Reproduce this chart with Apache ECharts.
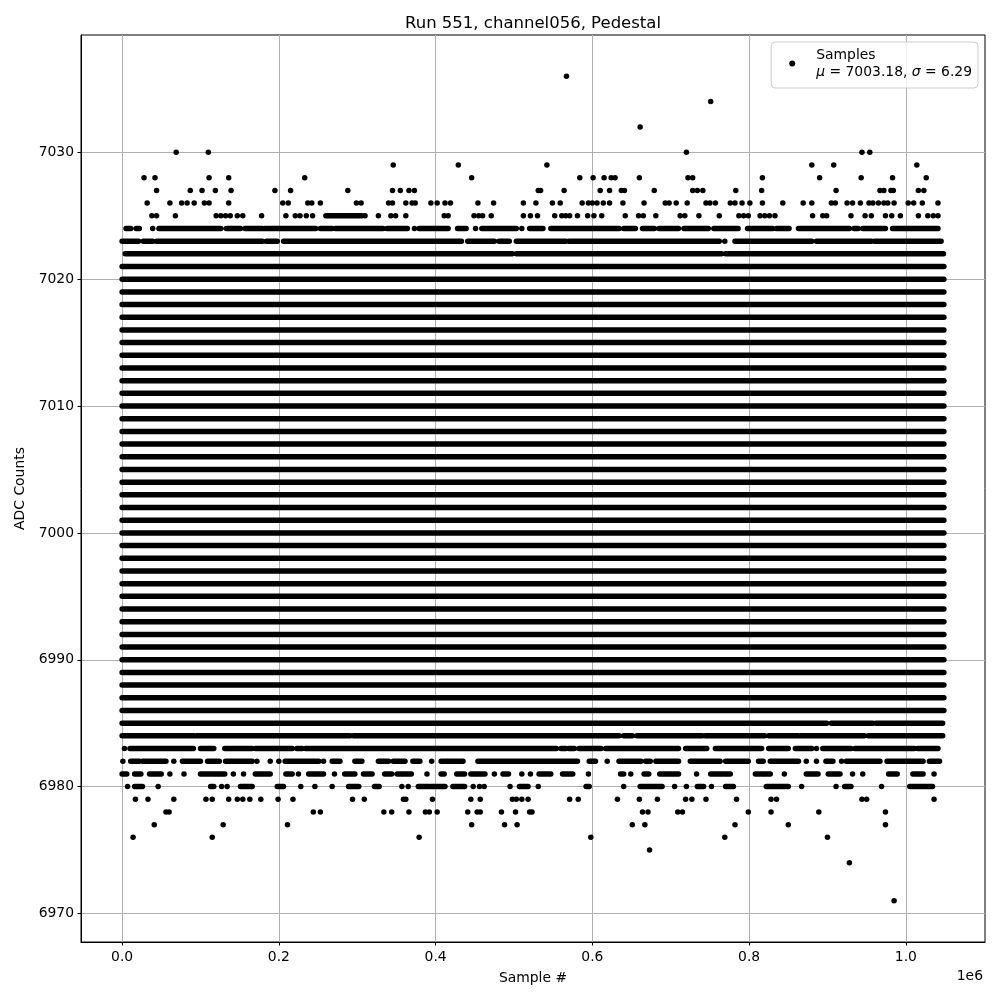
<!DOCTYPE html>
<html><head><meta charset="utf-8">
<script src="https://cdn.jsdelivr.net/npm/echarts@6/dist/echarts.min.js"></script>
<style>html,body{margin:0;padding:0;background:#fff}#c{width:1000px;height:1000px}</style>
</head><body><div id="c"></div>
<script>
// x values are in thousands of samples (axis shown as value/1e6 with "1e6" offset)
const xTicks = [0, 200, 400, 600, 800, 1000];
const yTicks = [6970, 6980, 6990, 7000, 7010, 7020, 7030];
const titleText = 'Run 551, channel056, Pedestal';
const lastSample = 1048.575;
const meanValue = '7003.18';
const sigmaValue = '6.29';

// levels where samples form continuous rows across the whole run
const fullLevels = [6986, 6987, 6988, 6989, 6990, 6991, 6992, 6993, 6994, 6995, 6996, 6997,
  6998, 6999, 7000, 7001, 7002, 7003, 7004, 7005, 7006, 7007, 7008, 7009, 7010, 7011, 7012,
  7013, 7014, 7015, 7016, 7017, 7018, 7019, 7020, 7021];

// partially filled levels: runs of consecutive samples [from, to]
const seg7025 = [[260, 306]];
const seg7024 = [[5, 11], [18, 22], [47, 126], [133, 151], [157, 179], [182, 247], [253, 268], [272, 333], [338, 364], [379, 416], [428, 439], [459, 503], [520, 537], [547, 634], [640, 655], [664, 679], [685, 710], [717, 748], [755, 786], [798, 830], [835, 851], [863, 928], [934, 939], [945, 974], [983, 1041]];
const seg7023 = [[0, 21], [27, 39], [44, 179], [184, 198], [206, 433], [441, 475], [481, 494], [503, 566], [570, 762], [782, 880], [886, 956], [960, 1045]];
const seg7022 = [[4, 498], [503, 765], [770, 1048]];
const seg6985 = [[0, 899], [905, 958], [962, 1047]];
const seg6984 = [[0, 92], [95, 291], [295, 634], [640, 651], [657, 740], [744, 820], [825, 863], [866, 947], [952, 1047]];
const seg6983 = [[10, 91], [100, 117], [131, 166], [170, 217], [223, 230], [234, 554], [560, 566], [570, 577], [583, 611], [617, 710], [719, 746], [757, 816], [825, 850], [859, 880], [894, 930], [935, 1011], [1015, 1041]];
const seg6982 = [[11, 22], [26, 56], [77, 100], [109, 124], [132, 166], [208, 251], [268, 278], [297, 306], [327, 340], [346, 361], [371, 380], [407, 435], [454, 581], [596, 604], [634, 662], [668, 674], [681, 710], [725, 763], [770, 799], [812, 818], [827, 863], [898, 907], [924, 967], [976, 1022], [1030, 1043]];
const seg6981 = [[0, 6], [16, 24], [35, 50], [100, 131], [170, 189], [209, 217], [238, 257], [284, 297], [308, 319], [335, 344], [351, 369], [407, 411], [427, 437], [445, 463], [486, 493], [532, 547], [562, 575], [636, 640], [666, 672], [686, 710], [751, 776], [808, 827], [873, 888], [901, 916], [978, 989], [1009, 1022]];
const seg6980 = [[16, 26], [113, 117], [151, 166], [198, 206], [289, 302], [322, 328], [378, 412], [422, 437], [507, 518], [592, 596], [661, 689], [734, 742], [770, 780], [822, 850], [922, 930], [1005, 1034]];

// isolated samples per level
const pts7036 = [567];
const pts7034 = [751];
const pts7032 = [661];
const pts7030 = [69, 110, 720, 944, 954];
const pts7029 = [346, 429, 542, 880, 908, 1014];
const pts7028 = [28, 42, 111, 136, 233, 446, 584, 601, 615, 624, 629, 660, 722, 728, 817, 890, 943, 983, 1026];
const pts7027 = [44, 87, 102, 119, 139, 195, 215, 288, 345, 355, 366, 373, 531, 534, 564, 610, 622, 637, 641, 679, 728, 734, 741, 783, 816, 911, 967, 972, 981, 984, 1016, 1023];
const pts7026 = [32, 61, 76, 83, 92, 105, 111, 136, 205, 212, 237, 242, 253, 299, 305, 340, 345, 362, 370, 374, 394, 402, 412, 419, 454, 474, 512, 528, 549, 559, 587, 595, 600, 606, 614, 622, 639, 666, 693, 698, 707, 721, 745, 750, 757, 776, 782, 791, 801, 817, 843, 869, 880, 905, 910, 925, 932, 942, 953, 958, 965, 972, 977, 985, 1003, 1010, 1021, 1041];
const pts7025 = [38, 44, 68, 120, 126, 132, 138, 147, 154, 178, 209, 221, 227, 235, 243, 310, 327, 343, 349, 362, 411, 416, 449, 455, 460, 471, 512, 521, 530, 552, 561, 566, 571, 581, 594, 602, 612, 642, 659, 665, 681, 712, 718, 736, 762, 787, 793, 799, 814, 820, 826, 833, 881, 894, 899, 930, 948, 956, 974, 982, 993, 1016, 1028, 1035, 1041];
const pts7024 = [39, 373, 451, 510];
const pts7023 = [769];
const pts6983 = [3, 886];
const pts6982 = [1, 66, 172, 189, 200, 257, 395, 619, 873, 886, 918];
const pts6981 = [61, 79, 142, 155, 225, 271, 389, 475, 510, 521, 595, 649, 733, 845, 932, 945, 1036];
const pts6980 = [7, 46, 127, 134, 228, 246, 268, 357, 365, 448, 456, 462, 495, 531, 640, 705, 720, 752, 867, 911, 969];
const pts6979 = [17, 33, 66, 107, 115, 136, 147, 154, 163, 177, 199, 218, 294, 309, 359, 362, 396, 445, 457, 498, 503, 510, 518, 571, 582, 632, 660, 683, 719, 727, 745, 784, 828, 835, 944, 950, 1036];
const pts6978 = [56, 60, 244, 253, 334, 344, 366, 387, 392, 402, 441, 453, 457, 484, 502, 520, 523, 664, 671, 709, 715, 799, 828, 889, 974];
const pts6977 = [41, 129, 211, 446, 488, 504, 651, 667, 782, 850, 974];
const pts6976 = [14, 115, 379, 598, 769, 900];
const pts6975 = [673];
const pts6974 = [928];
const pts6971 = [985];

const segRows = [[7025, seg7025], [7024, seg7024], [7023, seg7023], [7022, seg7022],
  [6985, seg6985], [6984, seg6984], [6983, seg6983], [6982, seg6982], [6981, seg6981], [6980, seg6980]];
fullLevels.forEach(v => segRows.push([v, [[0, lastSample]]]));
const ptRows = [[7036, pts7036], [7034, pts7034], [7032, pts7032], [7030, pts7030], [7029, pts7029],
  [7028, pts7028], [7027, pts7027], [7026, pts7026], [7025, pts7025], [7024, pts7024], [7023, pts7023],
  [6983, pts6983], [6982, pts6982], [6981, pts6981], [6980, pts6980], [6979, pts6979], [6978, pts6978],
  [6977, pts6977], [6976, pts6976], [6975, pts6975], [6974, pts6974], [6971, pts6971]];

const lineData = [];
segRows.forEach(([v, segs]) => segs.forEach(([a, b]) => { lineData.push([a, v], [b, v], [b, '-']); }));
const pointData = [];
ptRows.forEach(([v, xs]) => xs.forEach(x => pointData.push([x, v])));

const FONT = 'DejaVu Sans';
const chart = echarts.init(document.getElementById('c'), null, {renderer: 'canvas'});
chart.setOption({
  animation: false,
  backgroundColor: '#ffffff',
  title: [
    {text: titleText, left: 528, top: 10, textAlign: 'center',
     textStyle: {fontFamily: FONT, fontSize: 16.5, fontWeight: 'normal', color: '#000'}},
    {text: '1e6', right: 12, top: 964,
     textStyle: {fontFamily: FONT, fontSize: 13.9, fontWeight: 'normal', color: '#000'}}
  ],
  grid: {left: 81, right: 15, top: 35, bottom: 58, show: true, borderColor: '#000', borderWidth: 1, backgroundColor: 'transparent'},
  legend: {
    data: ['Samples'], right: 22, top: 42, orient: 'vertical', icon: 'circle',
    itemWidth: 38, itemHeight: 6, padding: [6, 6, 9, 18],
    backgroundColor: 'rgba(255,255,255,0.8)', borderColor: '#cccccc', borderWidth: 1, borderRadius: 4,
    formatter: () => '{a|Samples}\n{i|μ}{a| = ' + meanValue + ', }{i|σ}{a| = ' + sigmaValue + '}',
    itemStyle: {opacity: 1},
    textStyle: {fontFamily: FONT, fontSize: 13.9, color: '#000',
      rich: {a: {fontFamily: FONT, fontSize: 13.9, color: '#000', lineHeight: 17},
             i: {fontFamily: FONT, fontSize: 13.9, color: '#000', fontStyle: 'italic', lineHeight: 17}}}
  },
  xAxis: {
    type: 'value', min: -52.429, max: 1101.004,
    name: 'Sample #', nameLocation: 'middle', nameGap: 29,
    nameTextStyle: {fontFamily: FONT, fontSize: 13.9, color: '#000'},
    axisLine: {show: true, onZero: false, lineStyle: {color: '#000', width: 1}},
    axisTick: {show: true, length: 3.5, customValues: xTicks, lineStyle: {color: '#000'}},
    axisLabel: {customValues: xTicks, margin: 8.5, fontFamily: FONT, fontSize: 13.9, color: '#000',
      formatter: v => (v / 1000).toFixed(1)},
    splitLine: {show: true, lineStyle: {color: '#b0b0b0', width: 1}}
  },
  yAxis: {
    type: 'value', min: 6967.75, max: 7039.25,
    name: 'ADC Counts', nameLocation: 'middle', nameGap: 50,
    nameTextStyle: {fontFamily: FONT, fontSize: 13.9, color: '#000'},
    axisLine: {show: true, onZero: false, lineStyle: {color: '#000', width: 1}},
    axisTick: {show: true, length: 3.5, customValues: yTicks, lineStyle: {color: '#000'}},
    axisLabel: {customValues: yTicks, margin: 7, fontFamily: FONT, fontSize: 13.9, color: '#000',
      formatter: v => String(v)},
    splitLine: {show: true, lineStyle: {color: '#b0b0b0', width: 1}}
  },
  series: [
    {name: 'rows', type: 'line', data: lineData, symbol: 'none', connectNulls: false,
     lineStyle: {color: '#000', width: 5.5, cap: 'round', opacity: 1}, silent: true, z: 3},
    {name: 'Samples', type: 'scatter', data: pointData, symbol: 'circle', symbolSize: 5.5,
     itemStyle: {color: '#000', opacity: 1}, silent: true, z: 4}
  ]
});
</script></body></html>
